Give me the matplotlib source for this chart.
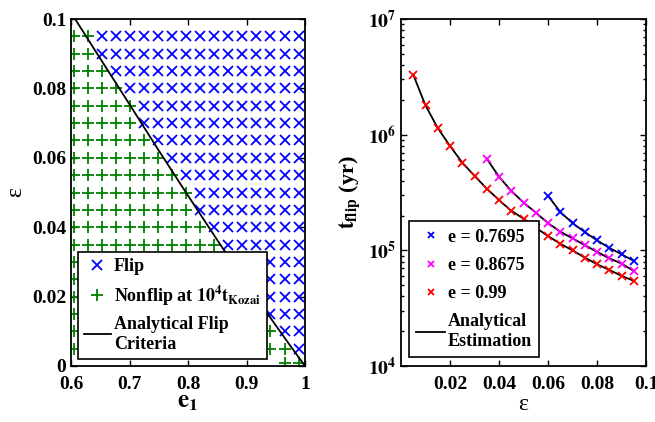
import matplotlib
matplotlib.use("Agg")
import matplotlib.pyplot as plt
import numpy as np
from matplotlib.lines import Line2D

plt.rcParams['font.family'] = ['Liberation Serif', 'DejaVu Serif']
plt.rcParams['font.weight'] = 'bold'
plt.rcParams['mathtext.fontset'] = 'stix'

# ---------------- left panel data ----------------
e1_cols = [0.605, 0.629, 0.653, 0.677, 0.701, 0.725, 0.749, 0.773, 0.797,
           0.821, 0.845, 0.869, 0.893, 0.917, 0.941, 0.965, 0.989]
eps_rows = [0.095, 0.090, 0.085, 0.080, 0.075, 0.070, 0.065, 0.060, 0.055, 0.050,
            0.045, 0.040, 0.035, 0.030, 0.025, 0.020, 0.015, 0.010, 0.005]
# number of non-flipping runs (counted from the left) in each row
n_nonflip = [2, 2, 3, 4, 5, 5, 6, 7, 8, 9, 9, 10, 11, 12, 13, 13, 14, 15, 16]
# extra low-eps row
eps_low = [0.001, 0.001]
e1_low = [0.965, 0.989]

# analytical flip criterion
crit_e1 = [0.607, 0.65, 0.70, 0.75, 0.80, 0.85, 0.90, 0.95, 0.975, 1.0]
crit_eps = [0.100, 0.0886, 0.0754, 0.0621, 0.0491, 0.0363, 0.0238, 0.0117, 0.0058, 0.0]

# ---------------- right panel data ----------------
eps_099 = [0.005, 0.010, 0.015, 0.020, 0.025, 0.030, 0.035, 0.040, 0.045, 0.050,
           0.055, 0.060, 0.065, 0.070, 0.075, 0.080, 0.085, 0.090, 0.095]
t_099 = [3.3e6, 1.79e6, 1.14e6, 7.98e5, 5.74e5, 4.4e5, 3.42e5, 2.72e5, 2.2e5, 1.88e5,
         1.57e5, 1.33e5, 1.14e5, 1.0e5, 8.65e4, 7.58e4, 6.78e4, 6.02e4, 5.45e4]
eps_08675 = [0.035, 0.040, 0.045, 0.050, 0.055, 0.060, 0.065, 0.070, 0.075,
             0.080, 0.085, 0.090, 0.095]
t_08675 = [6.21e5, 4.32e5, 3.27e5, 2.59e5, 2.12e5, 1.72e5, 1.45e5, 1.27e5, 1.11e5,
           9.7e4, 8.53e4, 7.68e4, 6.64e4]
eps_07695 = [0.060, 0.065, 0.070, 0.075, 0.080, 0.085, 0.090, 0.095]
t_07695 = [2.96e5, 2.15e5, 1.72e5, 1.44e5, 1.22e5, 1.05e5, 9.25e4, 8.1e4]

fig = plt.figure(figsize=(6.55, 4.22), dpi=100)
W, H = 655.0, 422.0
axL = fig.add_axes([71 / W, 1 - 366 / H, 234 / W, 347 / H])
axR = fig.add_axes([401 / W, 1 - 366 / H, 245 / W, 347 / H])

blue = (0, 0, 1)
green = (0, 0.5, 0)

# ----- left panel -----
fx, fy, nx, ny = [], [], [], []
for eps, n in zip(eps_rows, n_nonflip):
    for k, e in enumerate(e1_cols):
        if k < n:
            nx.append(e); ny.append(eps)
        else:
            fx.append(e); fy.append(eps)
nx += e1_low
ny += eps_low

axL.plot(fx, fy, 'x', color=blue, ms=7, mew=1.3, ls='none', clip_on=True)
axL.plot(nx, ny, '+', color=green, ms=9, mew=1.3, ls='none', clip_on=True)
axL.plot(crit_e1, crit_eps, '-', color='k', lw=1.3)
axL.set_xlim(0.6, 1.0)
axL.set_ylim(0, 0.1)
axL.set_xticks([0.6, 0.7, 0.8, 0.9, 1.0])
axL.set_xticklabels(['0.6', '0.7', '0.8', '0.9', '1'])
axL.set_yticks([0, 0.02, 0.04, 0.06, 0.08, 0.1])
axL.set_yticklabels(['0', '0.02', '0.04', '0.06', '0.08', '0.1'])
axL.set_xlabel(r'$\mathbf{e_1}$', fontsize=18, labelpad=-1)
axL.set_ylabel('ε', fontsize=17, fontweight='normal', labelpad=4)

hL = [Line2D([], [], marker='x', color=blue, ls='none', ms=7, mew=1.3),
      Line2D([], [], marker='+', color=green, ls='none', ms=9, mew=1.3),
      Line2D([], [], color='k', lw=1.3)]
labL = ['Flip', r'Nonflip at $\mathbf{10^4t_{Kozai}}$', 'Analytical Flip\nCriteria']
legL = axL.legend(hL, labL, loc='lower left', bbox_to_anchor=(0.005, 0.005),
                  fontsize=13, frameon=True, fancybox=False, edgecolor='k',
                  framealpha=1, handlelength=1.5, handletextpad=0.15,
                  borderaxespad=0.3, borderpad=0.35, labelspacing=0.45)
legL.get_frame().set_linewidth(1.2)

# ----- right panel -----
axR.plot(eps_07695, t_07695, '-', color='k', lw=1.3)
axR.plot(eps_08675, t_08675, '-', color='k', lw=1.3)
axR.plot(eps_099, t_099, '-', color='k', lw=1.3)
axR.plot(eps_07695, t_07695, 'x', color=blue, ms=5.5, mew=1.3, ls='none')
axR.plot(eps_08675, t_08675, 'x', color=(1, 0, 1), ms=5.5, mew=1.3, ls='none')
axR.plot(eps_099, t_099, 'x', color=(1, 0, 0), ms=5.5, mew=1.3, ls='none')
axR.set_yscale('log')
axR.set_xlim(0, 0.1)
axR.set_ylim(1e4, 1e7)
axR.set_xticks([0.02, 0.04, 0.06, 0.08, 0.1])
axR.set_xticklabels(['0.02', '0.04', '0.06', '0.08', '0.1'])
axR.set_yticks([1e4, 1e5, 1e6, 1e7])
axR.set_yticklabels([r'$\mathbf{10^{4}}$', r'$\mathbf{10^{5}}$',
                     r'$\mathbf{10^{6}}$', r'$\mathbf{10^{7}}$'])
axR.set_xlabel('ε', fontsize=17, fontweight='normal', labelpad=1)
axR.set_ylabel(r'$\mathbf{t_{flip}}$ (yr)', fontsize=16, fontweight='bold', labelpad=4)

hR = [Line2D([], [], marker='x', color=blue, ls='none', ms=5, mew=1.3),
      Line2D([], [], marker='x', color=(1, 0, 1), ls='none', ms=5, mew=1.3),
      Line2D([], [], marker='x', color=(1, 0, 0), ls='none', ms=5, mew=1.3),
      Line2D([], [], color='k', lw=1.3)]
labR = ['e = 0.7695', 'e = 0.8675', 'e = 0.99', 'Analytical\nEstimation']
legR = axR.legend(hR, labR, loc='lower left', bbox_to_anchor=(0.01, 0.01),
                  fontsize=13, frameon=True, fancybox=False, edgecolor='k',
                  framealpha=1, handlelength=1.6, handletextpad=0.15,
                  borderaxespad=0.3, borderpad=0.4, labelspacing=0.62)
legR.get_frame().set_linewidth(1.2)

for ax in (axL, axR):
    ax.tick_params(which='both', direction='in', top=True, right=True,
                   labelsize=14, width=1.0)
    ax.tick_params(which='major', length=4)
    ax.tick_params(which='minor', length=2.5)
    ax.tick_params(axis='x', pad=7)
    for s in ax.spines.values():
        s.set_linewidth(1.3)
    for lab in ax.get_xticklabels() + ax.get_yticklabels():
        lab.set_fontweight('bold')

fig.savefig('out.png', dpi=100)
